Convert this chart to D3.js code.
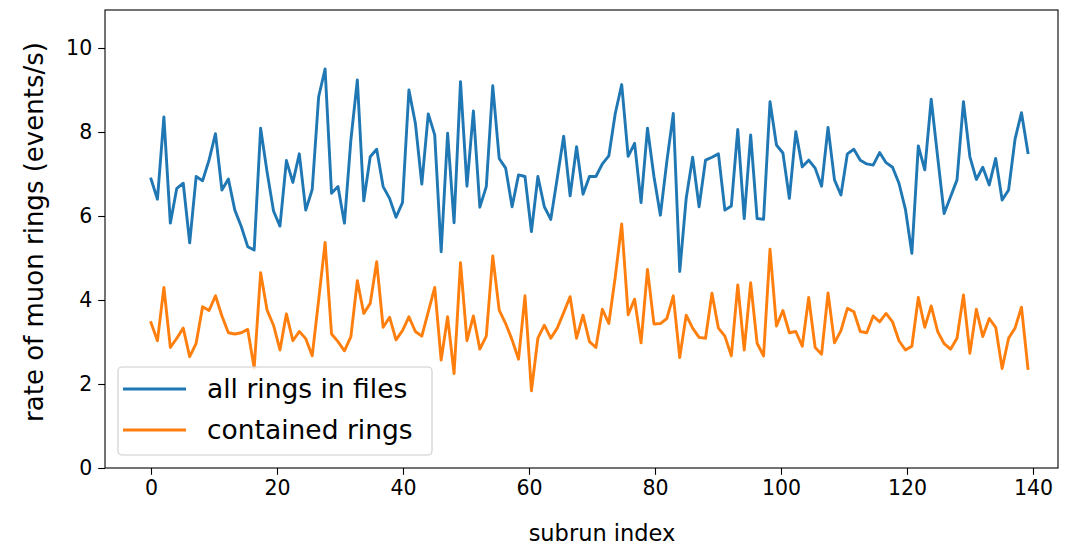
<!DOCTYPE html>
<html><head><meta charset="utf-8">
<script src="https://cdn.jsdelivr.net/npm/d3@7"></script>
<style>body{margin:0;background:#fff}svg{display:block}text{font-family:"DejaVu Sans",sans-serif}</style>
</head><body><svg id="c" width="1082" height="548"></svg>
<script>
const allRings = [6.88,6.40,8.36,5.83,6.66,6.78,5.36,6.94,6.84,7.33,7.96,6.62,6.88,6.14,5.75,5.27,5.19,8.09,7.05,6.12,5.76,7.32,6.80,7.48,6.14,6.63,8.84,9.50,6.54,6.70,5.83,7.81,9.24,6.36,7.41,7.59,6.70,6.42,5.97,6.32,9.00,8.21,6.76,8.43,7.93,5.15,7.97,5.84,9.20,6.71,8.50,6.21,6.70,9.10,7.37,7.14,6.22,6.98,6.94,5.63,6.94,6.22,5.92,6.90,7.90,6.48,7.65,6.52,6.94,6.94,7.24,7.43,8.44,9.13,7.42,7.73,6.32,8.09,6.94,6.02,7.30,8.44,4.68,6.42,7.40,6.22,7.33,7.40,7.48,6.14,6.24,8.06,5.94,7.93,5.94,5.92,8.72,7.69,7.50,6.42,8.01,7.17,7.33,7.14,6.71,8.11,6.86,6.50,7.48,7.59,7.33,7.24,7.21,7.51,7.27,7.16,6.78,6.16,5.11,7.67,7.10,8.78,7.40,6.06,6.46,6.86,8.72,7.41,6.87,7.16,6.74,7.37,6.38,6.62,7.83,8.46,7.51];
const containedRings = [3.46,3.03,4.30,2.87,3.09,3.33,2.65,2.97,3.84,3.75,4.10,3.62,3.22,3.19,3.22,3.30,2.38,4.65,3.76,3.40,2.81,3.67,3.03,3.25,3.08,2.67,4.00,5.37,3.19,3.01,2.79,3.13,4.46,3.68,3.92,4.91,3.35,3.59,3.05,3.27,3.60,3.25,3.14,3.72,4.30,2.57,3.60,2.25,4.89,3.03,3.62,2.83,3.14,5.05,3.76,3.44,3.05,2.59,4.10,1.84,3.09,3.40,3.09,3.33,3.70,4.08,3.09,3.64,3.01,2.87,3.78,3.44,4.55,5.81,3.65,4.02,2.98,4.73,3.43,3.44,3.56,4.10,2.63,3.64,3.33,3.11,3.09,4.16,3.33,3.14,2.67,4.36,2.81,4.41,2.97,2.67,5.21,3.38,3.75,3.22,3.25,2.90,4.06,2.87,2.71,4.17,2.98,3.27,3.80,3.72,3.25,3.22,3.62,3.48,3.68,3.48,3.03,2.81,2.90,4.06,3.35,3.86,3.25,2.96,2.83,3.09,4.12,2.73,3.78,3.13,3.56,3.35,2.37,3.09,3.33,3.83,2.37];
const subrunStep = 1.0235;
const subrunIndex = allRings.map((_, i) => i * subrunStep);
const xTicks = [0,20,40,60,80,100,120,140];
const yTicks = [0,2,4,6,8,10];
const seriesNames = ["all rings in files","contained rings"];
const colors = ["#1f77b4","#ff7f0e"];

const svg = d3.select("#c");
const L=105, R=1058, T=10, B=468;
const x = d3.scaleLinear().domain([0, 140]).range([151, 1033]);
const y = d3.scaleLinear().domain([0, 10.905]).range([B, T]);

const g = svg.append("g");
const line = d3.line().x((d,i)=>x(subrunIndex[i])).y(d=>y(d));
[allRings, containedRings].forEach((s,k)=>{
  g.append("path").datum(s).attr("d", line).attr("fill","none")
   .attr("stroke", colors[k]).attr("stroke-width", 2.9)
   .attr("stroke-linejoin","round").attr("stroke-linecap","square");
});

const xa = svg.append("g").attr("transform",`translate(0,${B})`)
  .call(d3.axisBottom(x).tickValues(xTicks).tickSize(6.8).tickPadding(6).tickFormat(d3.format("d")));
const ya = svg.append("g").attr("transform",`translate(${L},0)`)
  .call(d3.axisLeft(y).tickValues(yTicks).tickSize(6.8).tickPadding(6).tickFormat(d3.format("d")));
[xa,ya].forEach(a=>{
  a.select(".domain").remove();
  a.selectAll("line").attr("stroke","#000").attr("stroke-width",1.1);
  a.selectAll("text").attr("font-size",20.5).attr("fill","#000").attr("font-family","DejaVu Sans");
});
svg.append("rect").attr("x",L).attr("y",T).attr("width",R-L).attr("height",B-T)
  .attr("fill","none").attr("stroke","#000").attr("stroke-width",1.1);

svg.append("text").attr("x",602).attr("y",541).attr("text-anchor","middle")
  .attr("font-size",22.5).text("subrun index");
svg.append("text").attr("transform",`translate(43,232) rotate(-90)`).attr("text-anchor","middle")
  .attr("font-size",26).text("rate of muon rings (events/s)");

const lg = svg.append("g");
lg.append("rect").attr("x",118).attr("y",367).attr("width",314).attr("height",88).attr("rx",4)
  .attr("fill","#fff").attr("fill-opacity",0.8).attr("stroke","#ccc").attr("stroke-width",1.1);
seriesNames.forEach((n,k)=>{
  const yy = 389 + k*41;
  lg.append("line").attr("x1",123).attr("x2",186).attr("y1",yy).attr("y2",yy)
    .attr("stroke",colors[k]).attr("stroke-width",2.9);
  lg.append("text").attr("x",207).attr("y",yy+9).attr("font-size",26.5).text(n);
});
</script></body></html>
